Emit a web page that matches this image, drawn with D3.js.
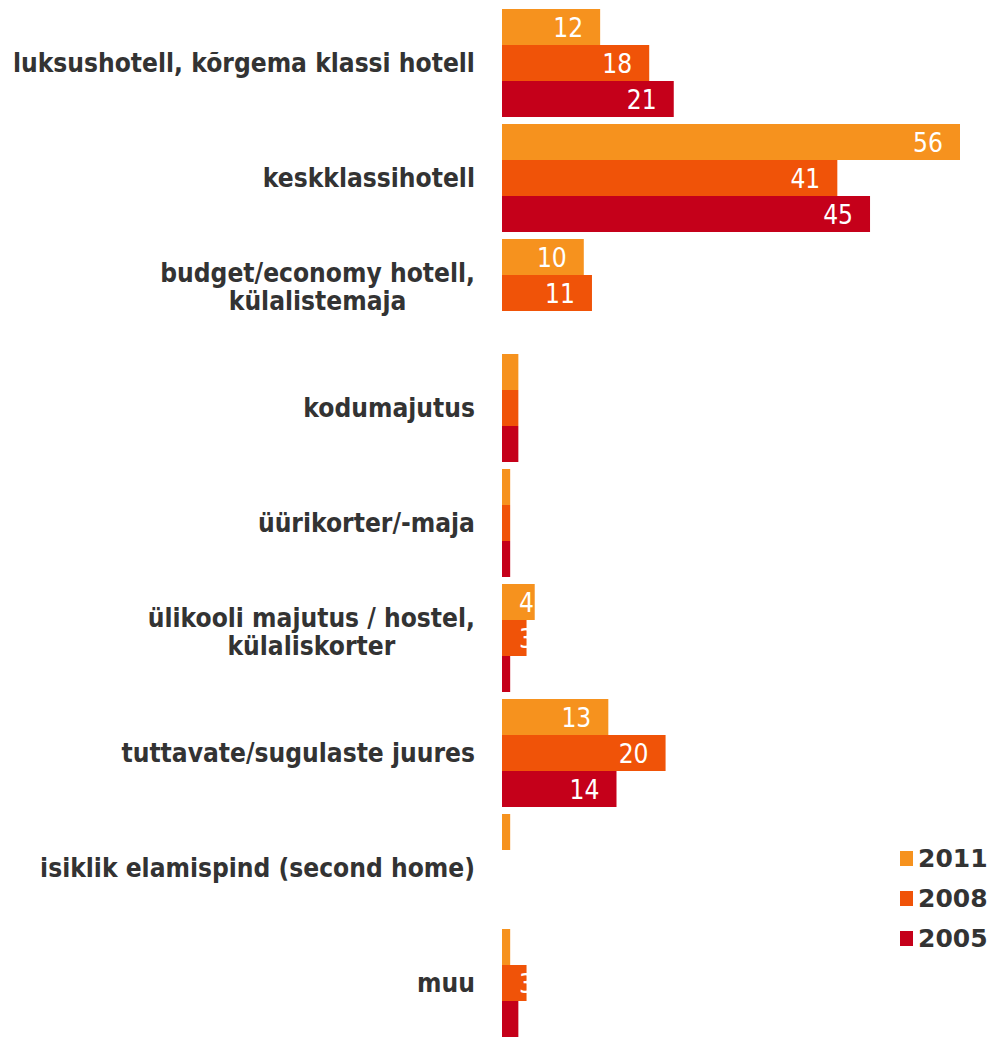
<!DOCTYPE html>
<html>
<head>
<meta charset="utf-8">
<script src="https://cdn.jsdelivr.net/npm/d3@7"></script>
<style>
  body { margin: 0; background: white; }
</style>
</head>
<body>
<div id="vis"></div>
<script>
// categories, top to bottom
let categories = [
  'luksushotell, kõrgema klassi hotell',
  'keskklassihotell',
  'budget/economy hotell,\nkülalistemaja',
  'kodumajutus',
  'üürikorter/-maja',
  'ülikooli majutus / hostel,\nkülaliskorter',
  'tuttavate/sugulaste juures',
  'isiklik elamispind (second home)',
  'muu',
];

let years = ['2011', '2008', '2005'];

// values per year, same order as categories
let values2011 = [12, 56, 10, 2, 1, 4, 13, 1, 1];
let values2008 = [18, 41, 11, 2, 1, 3, 20, 0, 3];
let values2005 = [21, 45, 0, 2, 1, 1, 14, 0, 2];

let series = { 2011: values2011, 2008: values2008, 2005: values2005 };
let colors = { 2011: '#f6921e', 2008: '#f05308', 2005: '#c5001a' };

let width = 991,
  height = 1037;

let svg = d3
  .select('#vis')
  .append('svg')
  .attr('width', width)
  .attr('height', height)
  .style('background-color', 'white');

let x = d3.scaleLinear().domain([0, 56]).range([502, 960]);

let y = d3
  .scaleBand()
  .domain(categories)
  .range([9, 1037])
  .paddingInner(7 / 115)
  .paddingOuter(0);

let ySub = d3.scaleBand().domain(years).range([0, y.bandwidth()]);

let labelScale = 0.87; // squash category labels horizontally
let valueScale = 0.87;

// bars
let groups = svg
  .selectAll('g.group')
  .data(categories)
  .join('g')
  .attr('class', 'group')
  .attr('transform', (d) => `translate(0,${y(d)})`);

groups.each(function (cat, i) {
  let g = d3.select(this);
  let rows = years.map((yr) => ({ year: yr, value: series[yr][i] }));

  g.selectAll('rect')
    .data(rows.filter((r) => r.value > 0))
    .join('rect')
    .attr('x', x(0))
    .attr('y', (r) => ySub(r.year))
    .attr('width', (r) => x(r.value) - x(0))
    .attr('height', ySub.bandwidth())
    .attr('fill', (r) => colors[r.year]);

  // white labels inside the bar end
  g.selectAll('text.value')
    .data(rows.filter((r) => r.value > 0))
    .join('text')
    .attr('class', 'value')
    .attr('transform', (r) => {
      let tx = Math.max(x(r.value) - 17, 534);
      let ty = ySub(r.year) + ySub.bandwidth() / 2 + 10;
      return `translate(${tx},${ty}) scale(${valueScale},1)`;
    })
    .attr('text-anchor', 'end')
    .attr('font-family', 'DejaVu Sans, Verdana, sans-serif')
    .attr('font-size', 27)
    .attr('fill', 'white')
    .text((r) => r.value);
});

// category labels, right aligned at 475, multi-line centred (one text, tspans)
categories.forEach(function (cat) {
  let lines = cat.split('\n');
  let cy = y(cat) + y.bandwidth() / 2;
  let first = cy + 9 - (lines.length - 1) * 20;

  let t = svg
    .append('text')
    .attr('font-family', 'DejaVu Sans, Verdana, sans-serif')
    .attr('font-weight', 'bold')
    .attr('font-size', 27)
    .attr('fill', '#333333')
    .attr('text-anchor', 'middle');

  let spans = lines.map((line, j) =>
    t.append('tspan').attr('x', 0).attr('y', j * 28).text(line)
  );

  let widest = d3.max(spans, (s) => s.node().getComputedTextLength()) * labelScale;
  let cx = 475 - widest / 2;

  t.attr('transform', `translate(${cx},${first}) scale(${labelScale},1)`);
});

// legend
let legend = svg
  .selectAll('g.legend')
  .data(years)
  .join('g')
  .attr('class', 'legend')
  .attr('transform', (d, i) => `translate(900,${851 + i * 40})`);

legend
  .append('rect')
  .attr('width', 13)
  .attr('height', 15)
  .attr('fill', (d) => colors[d]);

legend
  .append('text')
  .attr('x', 18)
  .attr('y', 16)
  .attr('font-family', 'DejaVu Sans, Verdana, sans-serif')
  .attr('font-weight', 'bold')
  .attr('font-size', 25)
  .attr('fill', '#333333')
  .text((d) => d);
</script>
</body>
</html>
